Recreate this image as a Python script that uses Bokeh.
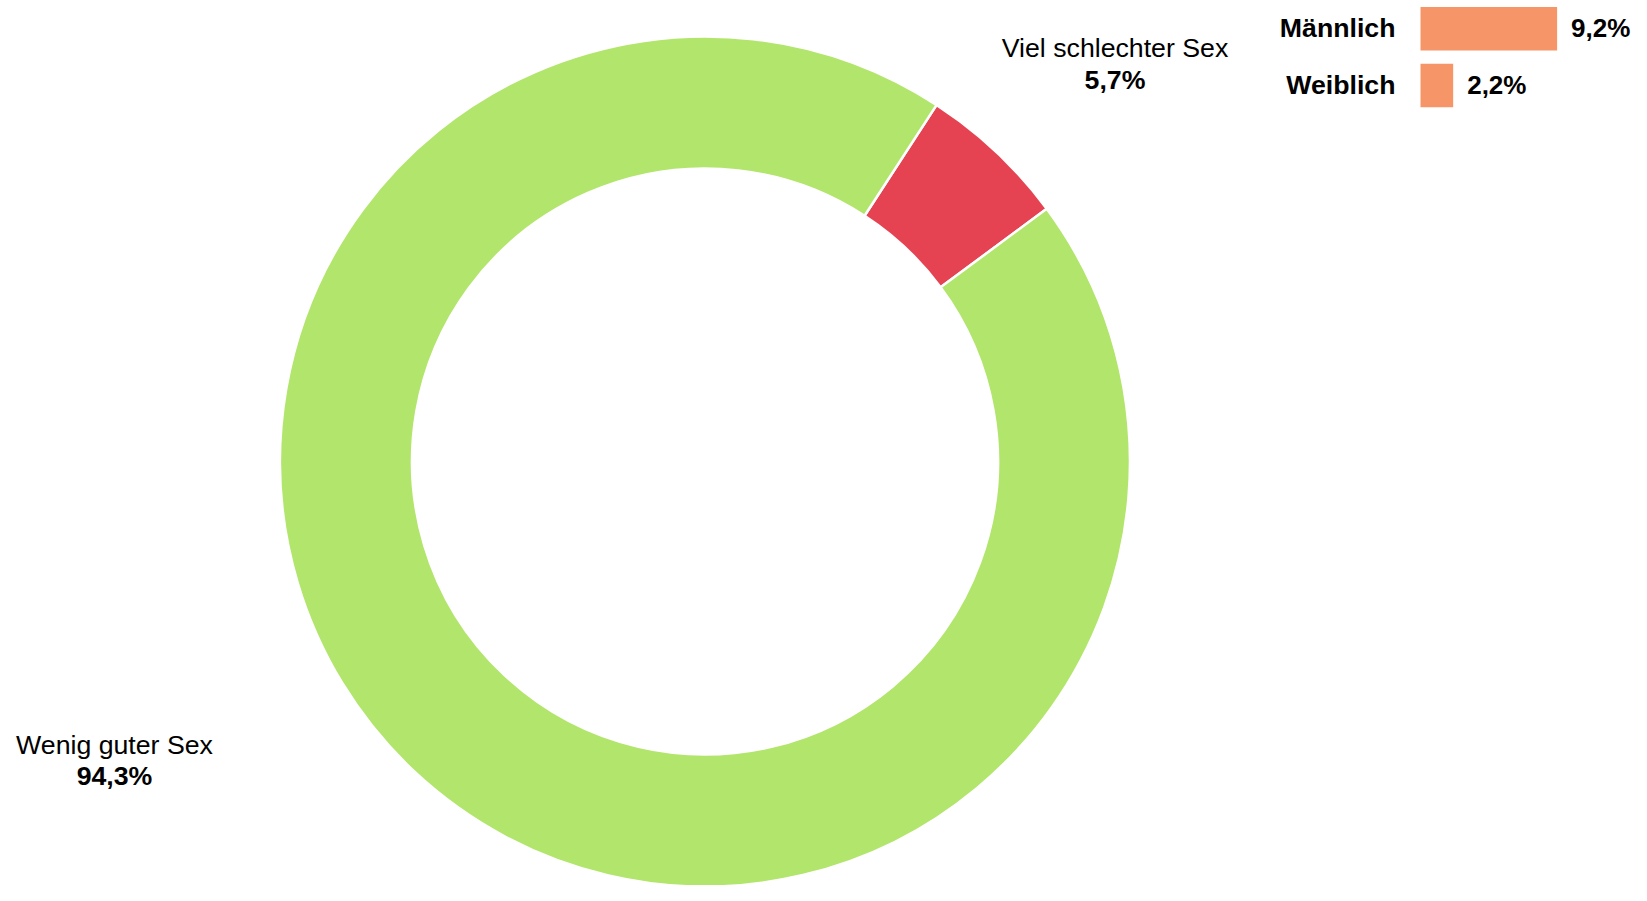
import math
from bokeh.plotting import figure
from bokeh.models import Range1d, Spacer
from bokeh.layouts import row, column
from bokeh.core.properties import value
from bokeh.embed import file_html
from bokeh.resources import INLINE

# ---------------- data ----------------
segments = ["Viel schlechter Sex", "Wenig guter Sex"]
segment_values = [5.7, 94.3]
segment_labels = ["5,7%", "94,3%"]
segment_colors = ["#e64352", "#b2e56b"]

gender = ["Männlich", "Weiblich"]
gender_values = [9.2, 2.2]
gender_labels = ["9,2%", "2,2%"]
bar_color = "#f69668"

FONT = value("Liberation Sans")
FS = "26.7px"

# ---------------- donut figure ----------------
W1, H = 1250, 885
donut = figure(width=W1, height=H, output_backend="svg", toolbar_location=None,
               x_range=Range1d(0, W1), y_range=Range1d(0, H),
               min_border=0, outline_line_color=None)
donut.axis.visible = False
donut.grid.visible = False
donut.background_fill_color = "white"
donut.border_fill_color = "white"

cx, cy = 704.5, H - 461.0
r_out, r_in = 425.0, 293.0
start_deg = 57.0  # math angle where the first segment starts (clockwise drawing)

total = sum(segment_values)
starts, ends = [], []
cum = 0.0
for v in segment_values:
    starts.append(math.radians(start_deg - cum / total * 360.0))
    cum += v
    ends.append(math.radians(start_deg - cum / total * 360.0))

donut.annular_wedge(x=[cx] * len(segment_values), y=[cy] * len(segment_values),
                    inner_radius=r_in, outer_radius=r_out,
                    start_angle=starts, end_angle=ends, direction="clock",
                    fill_color=segment_colors, line_color="white", line_width=2.5)

# label anchors (layout)
lab_x = [1114.5, 114.0]
name_y = [H - 47.5, H - 744.0]
val_y = [H - 79.0, H - 775.5]
donut.text(x=lab_x, y=name_y, text=segments, text_font=FONT, text_font_size=FS,
           text_align="center", text_baseline="alphabetic", text_color="black")
donut.text(x=lab_x, y=val_y, text=segment_labels, text_font=FONT, text_font_size=FS,
           text_font_style="bold", text_align="center", text_baseline="alphabetic",
           text_color="black")

# ---------------- bar figure ----------------
W2, H2 = 381, 130
px_per_pct = 14.85
zero_px = 170.0
xs = -zero_px / px_per_pct
row_px = 56.7
top_center_px = 28.3
ys = -top_center_px / row_px
ye = ys + H2 / row_px

bars = figure(width=W2, height=H2, output_backend="svg", toolbar_location=None,
              x_range=Range1d(xs, xs + W2 / px_per_pct), y_range=Range1d(ye, ys),
              min_border=0, outline_line_color=None)
bars.axis.visible = False
bars.grid.visible = False
bars.background_fill_color = "white"
bars.border_fill_color = "white"

ypos = list(range(len(gender)))
bars.hbar(y=ypos, left=0, right=gender_values, height=0.765,
          fill_color=bar_color, line_color=None)
bars.text(x=[0] * len(gender), y=ypos, text=gender, x_offset=-25, y_offset=-1,
          text_font=FONT, text_font_size=FS, text_font_style="bold",
          text_align="right", text_baseline="middle", text_color="black")
bars.text(x=gender_values, y=ypos, text=gender_labels, x_offset=14, y_offset=-1,
          text_font=FONT, text_font_size="26px", text_font_style="bold",
          text_align="left", text_baseline="middle", text_color="black")

p = row(donut, column(bars, Spacer(width=W2, height=H - H2), spacing=0), spacing=0)

open("out.html", "w").write(file_html(p, INLINE))
